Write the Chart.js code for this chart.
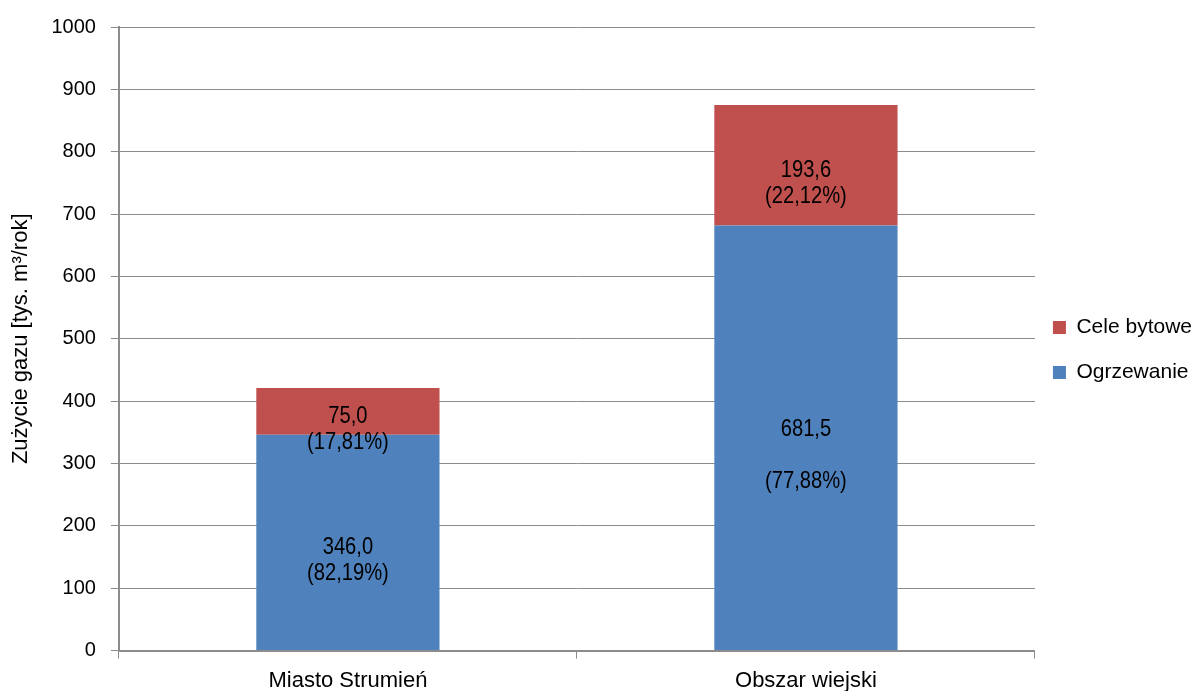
<!DOCTYPE html>
<html>
<head>
<meta charset="utf-8">
<script src="https://cdn.jsdelivr.net/npm/chart.js@4"></script>
<style>
  html, body { margin: 0; padding: 0; background: #fff; }
  #wrap { width: 1198px; height: 691px; }
</style>
</head>
<body>
<div id="wrap"><canvas id="myChart"></canvas></div>
<script>
const categories = ['Miasto Strumień', 'Obszar wiejski'];
const heating = [346.0, 681.5];
const household = [75.0, 193.6];
const heatingLabels = [['346,0', '(82,19%)'], ['681,5', '', '(77,88%)']];
const householdLabels = [['75,0', '(17,81%)'], ['193,6', '(22,12%)']];
const yTicks = [0, 100, 200, 300, 400, 500, 600, 700, 800, 900, 1000];

const sans = "'Liberation Sans', Arial, sans-serif";
const grid = '#8c8c8c';

// value labels inside the bar segments, squeezed a bit to look like Arial Narrow
const barText = {
  id: 'barText',
  afterDatasetsDraw(chart) {
    const c = chart.ctx;
    c.save();
    c.font = '24px ' + sans;
    c.fillStyle = '#000';
    c.textAlign = 'center';
    c.textBaseline = 'middle';
    chart.data.datasets.forEach((ds, di) => {
      chart.getDatasetMeta(di).data.forEach((bar, i) => {
        const lines = ds.valueLabels[i];
        const mid = (bar.y + bar.base) / 2 + 18;
        const lh = 26;
        const start = mid - (lines.length - 1) * lh / 2;
        lines.forEach((t, k) => {
          c.save();
          c.translate(bar.x, start + k * lh);
          c.scale(0.84, 1);
          c.fillText(t, 0, 0);
          c.restore();
        });
      });
    });
    c.restore();
  }
};

// nudge the legend a little up and left, like in the original
const legendNudge = {
  id: 'legendNudge',
  afterLayout(chart) {
    const lg = chart.legend;
    lg.top -= 15; lg.bottom -= 15;
    lg.left -= 6; lg.right -= 6;
  }
};

new Chart(document.getElementById('myChart'), {
  type: 'bar',
  data: {
    labels: categories,
    datasets: [
      { label: 'Ogrzewanie', data: heating, backgroundColor: '#4F81BD', valueLabels: heatingLabels },
      { label: 'Cele bytowe', data: household, backgroundColor: '#C0504D', valueLabels: householdLabels }
    ]
  },
  options: {
    responsive: true,
    maintainAspectRatio: false,
    animation: false,
    layout: { padding: { top: 27, right: -10, bottom: -12, left: 6 } },
    datasets: { bar: { categoryPercentage: 1, barPercentage: 0.4 } },
    scales: {
      x: {
        stacked: true,
        grid: { display: true, drawOnChartArea: false, color: grid, tickLength: 8, offset: true },
        border: { color: grid, width: 2 },
        ticks: { color: '#000', font: { family: sans, size: 22 }, padding: 9 }
      },
      y: {
        stacked: true,
        min: 0,
        max: 1000,
        afterBuildTicks: axis => { axis.ticks = yTicks.map(v => ({ value: v })); },
        grid: { color: grid, tickLength: 8 },
        border: { color: grid, width: 2 },
        ticks: { color: '#000', font: { family: sans, size: 20 }, padding: 15, callback: v => String(v) },
        title: { display: true, text: 'Zużycie gazu [tys. m³/rok]', color: '#000', font: { family: sans, size: 22 }, padding: 2 }
      }
    },
    plugins: {
      legend: {
        position: 'right',
        reverse: true,
        labels: { color: '#000', boxWidth: 13, boxHeight: 13, padding: 24, font: { family: sans, size: 21 } }
      },
      tooltip: { enabled: false }
    }
  },
  plugins: [barText, legendNudge]
});
</script>
</body>
</html>
